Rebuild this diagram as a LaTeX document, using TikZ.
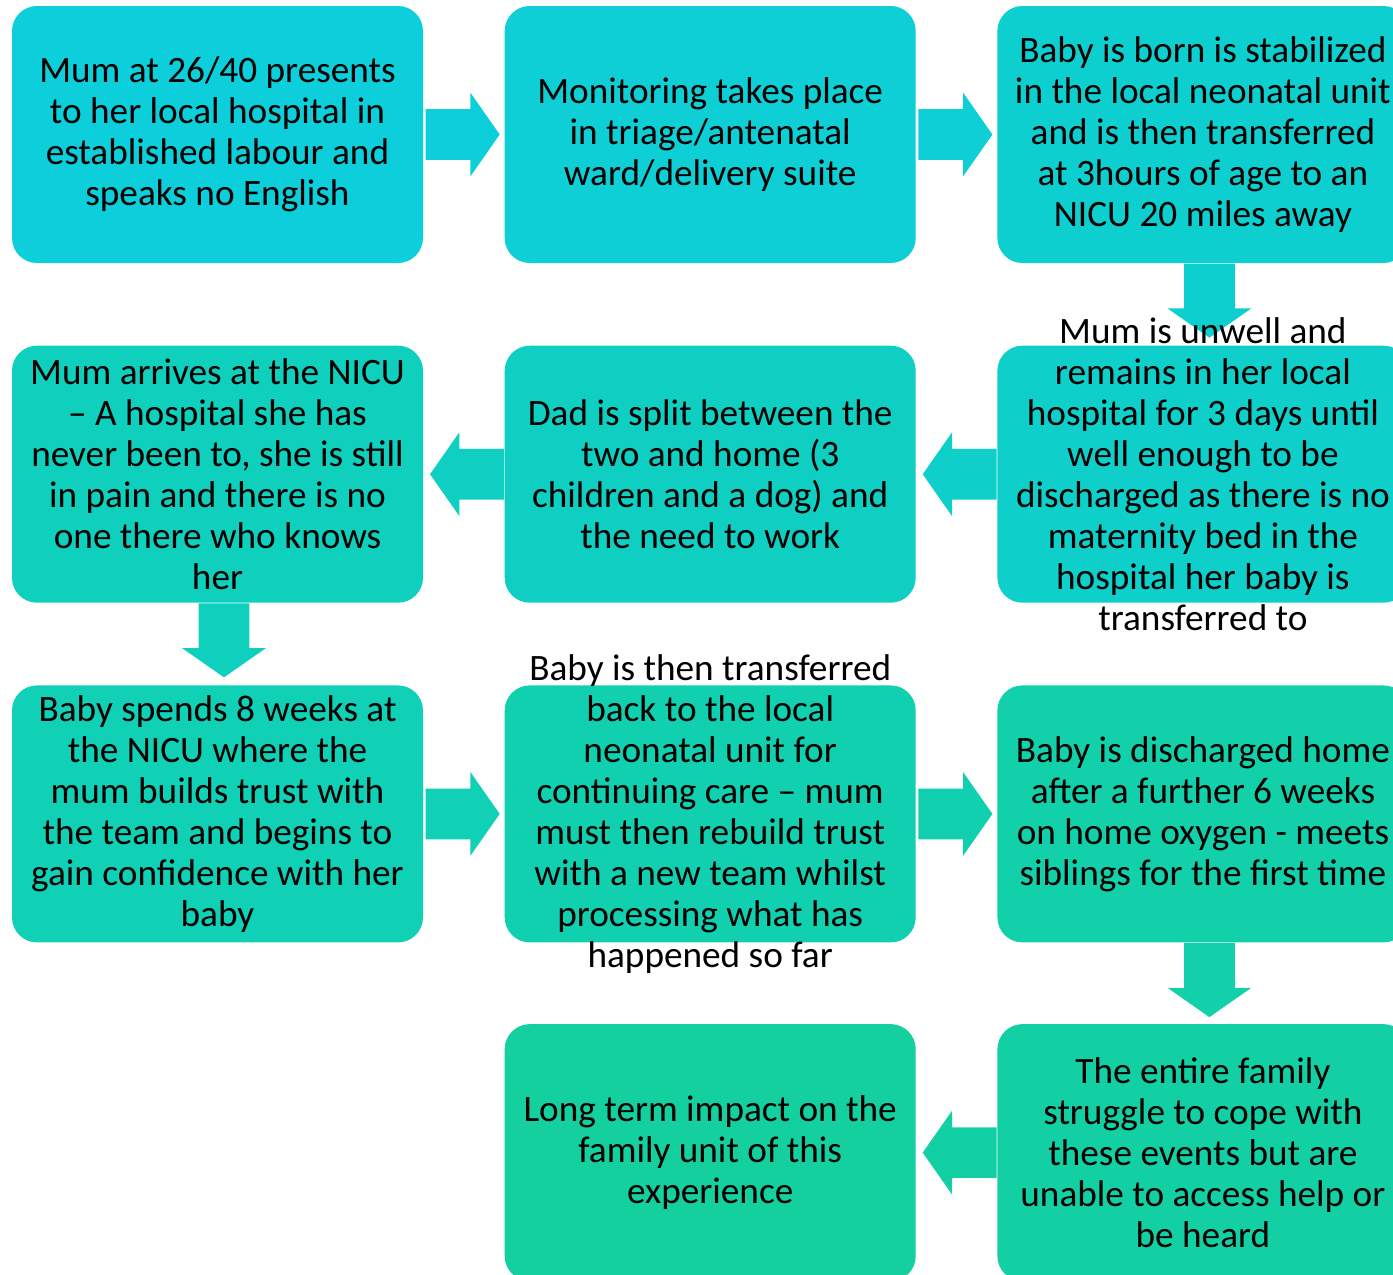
\documentclass[tikz,border=0pt]{standalone}
\usepackage{fontspec}
\setmainfont{Carlito}
\usetikzlibrary{positioning,calc,shapes.arrows}
\definecolor{FlowCyan}{RGB}{12,207,219}
\definecolor{FlowGreen}{RGB}{19,208,158}
\colorlet{StepA}{FlowCyan}
\colorlet{StepB}{FlowGreen!10!FlowCyan}
\colorlet{StepC}{FlowGreen!20!FlowCyan}
\colorlet{StepD}{FlowGreen!30!FlowCyan}
\colorlet{StepE}{FlowGreen!40!FlowCyan}
\colorlet{StepF}{FlowGreen!50!FlowCyan}
\colorlet{StepG}{FlowGreen!60!FlowCyan}
\colorlet{StepH}{FlowGreen!70!FlowCyan}
\colorlet{StepI}{FlowGreen!80!FlowCyan}
\colorlet{StepJ}{FlowGreen!90!FlowCyan}
\colorlet{StepK}{FlowGreen}
\tikzset{
  card/.style={rounded corners=0.5cm,minimum width=8.22cm,minimum height=5.14cm,inner sep=0pt},
  cardtext/.style={align=center,inner sep=0pt,font=\fontsize{21.2pt}{23.3pt}\selectfont},
  blockarrow/.style={single arrow,minimum height=1.48cm,minimum width=1.66cm,anchor=tail,
    single arrow head extend=0.33cm,single arrow tip angle=110,inner xsep=0pt,inner ysep=0.5cm}
}

\begin{document}
\begin{tikzpicture}
  \useasboundingbox (0,0) rectangle (27.86,-25.48);

  \node[card,fill=StepA] (b1) at (4.35,-2.69) {};
  \node[card,fill=StepB,right=1.62cm of b1] (b2) {};
  \node[card,fill=StepC,right=1.62cm of b2] (b3) {};
  \node[card,fill=StepD,below=1.64cm of b3] (b4) {};
  \node[card,fill=StepE,left=1.62cm of b4] (b5) {};
  \node[card,fill=StepF,left=1.62cm of b5] (b6) {};
  \node[card,fill=StepG,below=1.64cm of b6] (b7) {};
  \node[card,fill=StepH,right=1.62cm of b7] (b8) {};
  \node[card,fill=StepI,right=1.62cm of b8] (b9) {};
  \node[card,fill=StepJ,below=1.62cm of b9] (b10) {};
  \node[card,fill=StepK,left=1.62cm of b10] (b11) {};

  \node[blockarrow,fill=StepA] (a1) at ($(b1.east)+(0.04,0)$) {};
  \node[blockarrow,fill=StepB] (a2) at ($(b2.east)+(0.04,0)$) {};
  \node[blockarrow,fill=StepC,xshift=0.13cm,rotate=-90] (a3) at (b3.south) {};
  \node[blockarrow,fill=StepD,rotate=180] (a4) at (b4.west) {};
  \node[blockarrow,fill=StepE,rotate=180] (a5) at (b5.west) {};
  \node[blockarrow,fill=StepF,xshift=0.13cm,rotate=-90] (a6) at (b6.south) {};
  \node[blockarrow,fill=StepG] (a7) at ($(b7.east)+(0.04,0)$) {};
  \node[blockarrow,fill=StepH] (a8) at ($(b8.east)+(0.04,0)$) {};
  \node[blockarrow,fill=StepI,xshift=0.13cm,rotate=-90] (a9) at (b9.south) {};
  \node[blockarrow,fill=StepJ,rotate=180] (a10) at (b10.west) {};

  \node[cardtext] (t1) at (b1) {Mum at 26/40 presents\\to her local hospital in\\established labour and\\speaks no English};
  \node[cardtext] (t2) at (b2) {Monitoring takes place\\in triage/antenatal\\ward/delivery suite};
  \node[cardtext] (t3) at (b3) {Baby is born is stabilized\\in the local neonatal unit\\and is then transferred\\at 3hours of age to an\\NICU 20 miles away};
  \node[cardtext] (t4) at (b4) {Mum is unwell and\\remains in her local\\hospital for 3 days until\\well enough to be\\discharged as there is no\\maternity bed in the\\hospital her baby is\\transferred to};
  \node[cardtext] (t5) at (b5) {Dad is split between the\\two and home (3\\children and a dog) and\\the need to work};
  \node[cardtext] (t6) at (b6) {Mum arrives at the NICU\\– A hospital she has\\never been to, she is still\\in pain and there is no\\one there who knows\\her};
  \node[cardtext] (t7) at (b7) {Baby spends 8 weeks at\\the NICU where the\\mum builds trust with\\the team and begins to\\gain confidence with her\\baby};
  \node[cardtext] (t8) at (b8) {Baby is then transferred\\back to the local\\neonatal unit for\\continuing care – mum\\must then rebuild trust\\with a new team whilst\\processing what has\\happened so far};
  \node[cardtext] (t9) at (b9) {Baby is discharged home\\after a further 6 weeks\\on home oxygen - meets\\siblings for the first time};
  \node[cardtext] (t10) at (b10) {The entire family\\struggle to cope with\\these events but are\\unable to access help or\\be heard};
  \node[cardtext] (t11) at (b11) {Long term impact on the\\family unit of this\\experience};
\end{tikzpicture}
\end{document}
